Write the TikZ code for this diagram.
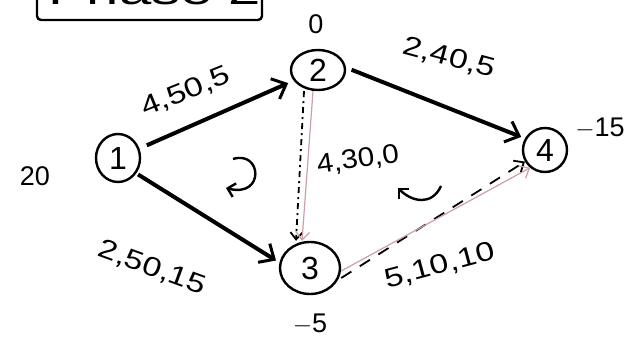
\documentclass[tikz,border=0pt]{standalone}
\usepackage{fontspec}
\setmainfont{Liberation Sans}
\usetikzlibrary{arrows.meta,shapes.geometric}
\definecolor{pinkline}{RGB}{205,160,165}
\begin{document}
\begin{tikzpicture}[x=1pt,y=-1pt,
  vert/.style={draw,ellipse,line width=2.4pt,inner sep=0pt,font=\fontsize{32}{32}\selectfont},
  thickarrow/.style={line width=4pt,-{Straight Barb[length=12pt,width=22pt,line width=3pt]}},
  elabel/.style={font=\fontsize{27}{27}\selectfont},
  val/.style={font=\fontsize{27}{27}\selectfont},
  thinpink/.style={draw=pinkline,line width=1.2pt,-{Straight Barb[length=8pt,width=14pt]}},
  curl/.style={line width=2.4pt,-{Straight Barb[length=7pt,width=14pt,line width=2.4pt]}}]
\useasboundingbox (0,0) rectangle (640,350);
\fill[white] (0,0) rectangle (640,350);
\begin{scope}
\clip (0,0) rectangle (640,350);
\draw[line width=2.4pt,rounded corners=4pt] (37,-20) -- (37,20) -- (262,20) -- (262,-20);
\node[anchor=south west,inner sep=0pt,font=\fontsize{40}{40}\selectfont] (title) at (48,5) {\scalebox{1.45}[1]{Phase 2}};
\end{scope}
% vertices
\node[vert,minimum width=44pt,minimum height=48pt] (n1) at (118,158) {1};
\node[vert,minimum width=54pt,minimum height=40pt] (n2) at (318,70) {2};
\node[vert,minimum width=60pt,minimum height=52pt] (n3) at (310,268) {3};
\node[vert,minimum width=44pt,minimum height=44pt] (n4) at (545,150) {4};
% values
\node[val] (v1) at (35,176) {20};
\node[val] (v2) at (316,24) {0};
\node[val] (v3) at (310,324) {$-$5};
\node[val] (v4) at (600,128) {$-$15};
% thick arrows
\draw[thickarrow,shorten <=8pt,shorten >=6pt] (n1) -- (n2);
\draw[thickarrow,shorten <=2pt,shorten >=4pt] (n1.-40) -- (n3.170);
\draw[thickarrow,shorten <=6pt,shorten >=4pt] (n2.5) -- (n4.150);
\node[elabel,rotate=22] (l12) at (186,92) {\scalebox{1.25}[1]{4,50,5}};
\node[elabel,rotate=-20] (l13) at (152,268) {\scalebox{1.25}[1]{2,50,15}};
\node[elabel,rotate=-15] (l24) at (449,58) {\scalebox{1.25}[1]{2,40,5}};
% 2 -> 3
\draw[line width=1.8pt,dash pattern=on 6pt off 4pt on 2pt off 4pt,-{Straight Barb[length=7pt,width=12pt]}] ([xshift=-14pt]n2.south) -- ([xshift=-14pt]n3.north);
\draw[thinpink] ([xshift=-5pt]n2.south) -- ([xshift=-8pt]n3.north);
\node[elabel,rotate=8] (l23) at (358,160) {\scalebox{1.1}[1]{4,30,0}};
% 3 -> 4
\draw[line width=1.8pt,dash pattern=on 12pt off 10pt,-{Straight Barb[length=8pt,width=14pt]}] ([yshift=-10pt]n3.east) -- (n4.-150);
\draw[thinpink] ([yshift=-3pt]n3.east) -- (n4.-130);
\node[elabel,rotate=15] (l34) at (440,266) {\scalebox{1.25}[1]{5,10,10}};
% curls
\draw[curl] (233,159) .. controls (262,150) and (265,198) .. (226,188);
\draw[curl] (441,186) .. controls (432,206) and (412,202) .. (398,188);
\end{tikzpicture}
\end{document}
